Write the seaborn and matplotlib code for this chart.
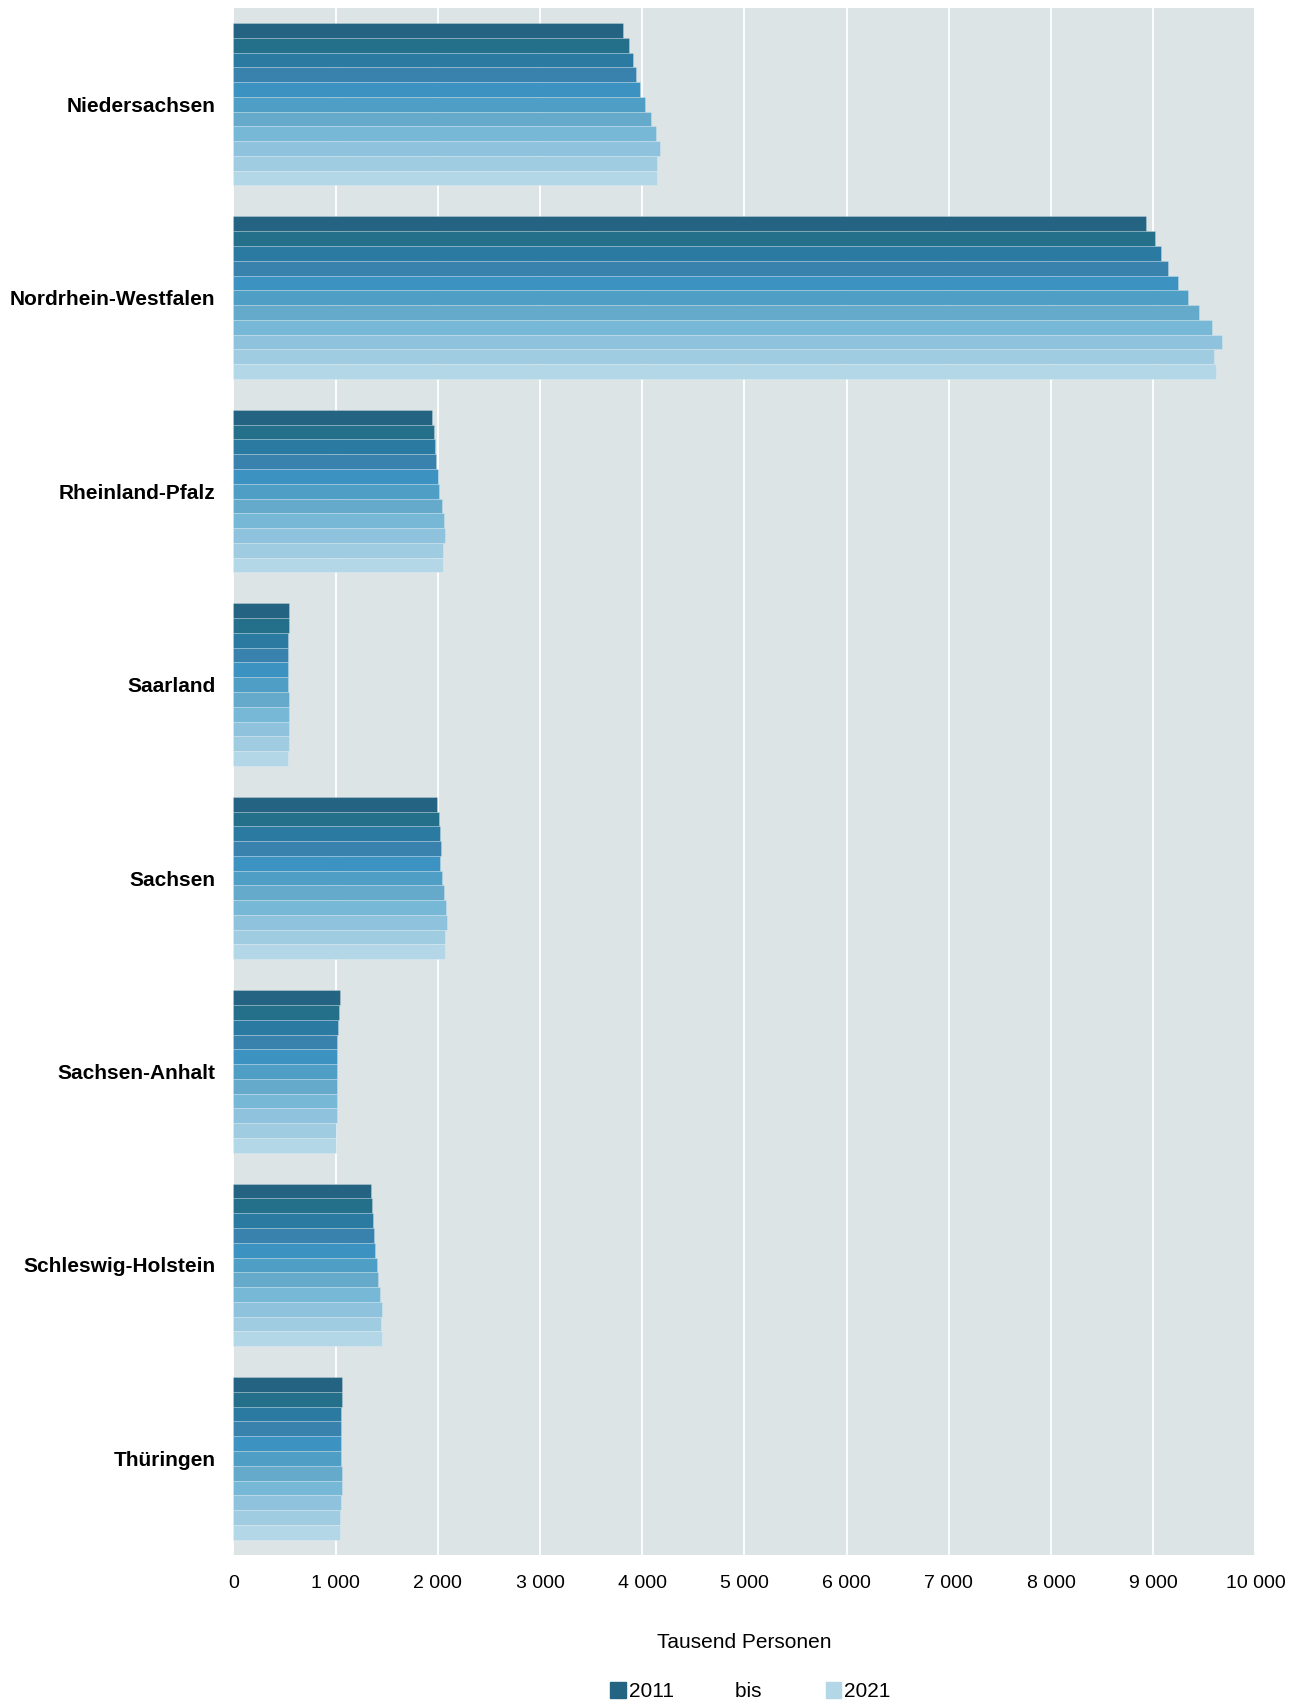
import matplotlib
matplotlib.use("Agg")
import matplotlib.pyplot as plt
import matplotlib.patches as mpatches
from matplotlib.ticker import FuncFormatter, MultipleLocator
import pandas as pd
import seaborn as sns

# Erwerbstätige nach Bundesland, Tausend Personen, 2011 bis 2021
laender = [
    "Niedersachsen",
    "Nordrhein-Westfalen",
    "Rheinland-Pfalz",
    "Saarland",
    "Sachsen",
    "Sachsen-Anhalt",
    "Schleswig-Holstein",
    "Thüringen",
]
jahre = [str(j) for j in range(2011, 2022)]

niedersachsen = [3815, 3871, 3911, 3943, 3975, 4027, 4085, 4130, 4175, 4140, 4140]
nordrhein_westfalen = [8925, 9013, 9071, 9143, 9240, 9335, 9446, 9573, 9671, 9596, 9610]
rheinland_pfalz = [1940, 1960, 1972, 1983, 2002, 2015, 2036, 2056, 2066, 2047, 2047]
saarland = [541, 541, 536, 535, 535, 538, 542, 546, 548, 540, 538]
sachsen = [1994, 2013, 2024, 2034, 2026, 2045, 2058, 2077, 2088, 2068, 2068]
sachsen_anhalt = [1045, 1034, 1023, 1018, 1015, 1014, 1015, 1017, 1016, 1005, 1003]
schleswig_holstein = [1343, 1354, 1365, 1375, 1386, 1405, 1418, 1438, 1450, 1445, 1450]
thueringen = [1066, 1060, 1057, 1055, 1053, 1055, 1058, 1060, 1057, 1045, 1040]

werte = [
    niedersachsen, nordrhein_westfalen, rheinland_pfalz, saarland,
    sachsen, sachsen_anhalt, schleswig_holstein, thueringen,
]

farben = [
    "#256382", "#246F8A", "#2B7AA1", "#3882AD", "#3C93C2", "#4E9EC5",
    "#66AACB", "#78B8D7", "#8FC3DD", "#A0CCE1", "#B4D7E7",
]

rows = []
for land, reihe in zip(laender, werte):
    for jahr, wert in zip(jahre, reihe):
        rows.append({"Land": land, "Jahr": jahr, "Wert": wert})
df = pd.DataFrame(rows)

sns.set_style("white")
plt.rcParams["font.family"] = ["Liberation Sans", "DejaVu Sans"]
plt.rcParams["text.color"] = "black"
plt.rcParams["axes.labelcolor"] = "black"
plt.rcParams["xtick.color"] = "black"
plt.rcParams["ytick.color"] = "black"

fig = plt.figure(figsize=(13.04, 17.07), dpi=100)
ax = fig.add_axes([0.179, 0.089, 0.7838, 0.9066])
ax.set_facecolor("#DCE4E6")

sns.barplot(
    data=df, y="Land", x="Wert", hue="Jahr", orient="h",
    palette=farben, saturation=1, width=0.84, dodge=True, legend=False,
    edgecolor=(1, 1, 1, 0.25), linewidth=0.6, ax=ax,
)

ax.set_xlim(0, 10000)
ax.set_ylim(7.5, -0.5)
ax.xaxis.set_major_locator(MultipleLocator(1000))
ax.xaxis.set_major_formatter(FuncFormatter(lambda v, _: f"{int(v):,}".replace(",", " ")))
ax.grid(axis="x", color="white", linewidth=1.3)
ax.grid(axis="y", visible=False)
ax.set_axisbelow(True)
for s in ax.spines.values():
    s.set_visible(False)

ax.tick_params(axis="both", length=0)
ax.tick_params(axis="y", pad=13, labelsize=15)
ax.tick_params(axis="x", pad=14, labelsize=14)
for lab in ax.get_yticklabels():
    lab.set_fontweight("bold")

ax.set_ylabel("")
ax.set_xlabel("Tausend Personen", fontsize=15, labelpad=30)

handles = [
    mpatches.Patch(color=farben[0]),
    mpatches.Patch(color="none"),
    mpatches.Patch(color=farben[-1]),
]
fig.legend(
    handles, ["2011", "bis    ", "2021"], ncol=3, frameon=False,
    loc="center", bbox_to_anchor=(0.5756, 0.009), fontsize=15,
    handlelength=0.75, handleheight=0.75, handletextpad=0.15,
    columnspacing=2.0,
)

fig.savefig("out.png", dpi=100)
